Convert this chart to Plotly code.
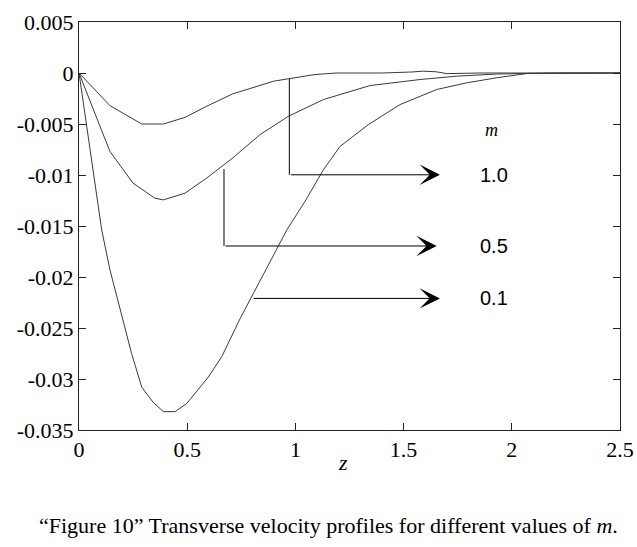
import plotly.graph_objects as go

# Data (z, transverse velocity)
z_m10 = [0, 0.143, 0.29, 0.39, 0.49, 0.59, 0.71, 0.90, 0.967, 1.09, 1.19, 1.40, 1.54, 1.59, 1.65, 1.70, 1.85, 2.0, 2.5]
v_m10 = [0, -0.0032, -0.0050, -0.0050, -0.00435, -0.00326, -0.00205, -0.0008, -0.00057, -0.00015, 0.0, 0.0, 0.0001, 0.00018, 0.00012, -0.00006, 0.0, 0.0, 0.0]

z_m05 = [0, 0.143, 0.25, 0.35, 0.39, 0.49, 0.59, 0.71, 0.836, 0.967, 1.13, 1.28, 1.345, 1.576, 1.745, 1.93, 2.2, 2.5]
v_m05 = [0, -0.00769, -0.0108, -0.01227, -0.01244, -0.01178, -0.0103, -0.00834, -0.00605, -0.00425, -0.0026, -0.00162, -0.00123, -0.00064, -0.00031, -0.0001, 0.0, 0.0]

z_m01 = [0, 0.105, 0.143, 0.197, 0.243, 0.29, 0.343, 0.39, 0.444, 0.498, 0.598, 0.66, 0.744, 0.806, 0.898, 0.96, 1.044, 1.129, 1.206, 1.337, 1.483, 1.653, 1.79, 1.93, 2.07, 2.3, 2.5]
v_m01 = [0, -0.0154, -0.0193, -0.0236, -0.0275, -0.0308, -0.0323, -0.0332, -0.0332, -0.0324, -0.0298, -0.0278, -0.0241, -0.0216, -0.0178, -0.0154, -0.0126, -0.0095, -0.0072, -0.00506, -0.0031, -0.00162, -0.00097, -0.00047, -0.00005, 0.0, 0.0]

m_labels = ["1.0", "0.5", "0.1"]

x_ticks = [0, 0.5, 1, 1.5, 2, 2.5]
x_tick_text = ["0", "0.5", "1", "1.5", "2", "2.5"]
y_ticks = [0.005, 0, -0.005, -0.01, -0.015, -0.02, -0.025, -0.03, -0.035]
y_tick_text = ["0.005", "0", "-0.005", "-0.01", "-0.015", "-0.02", "-0.025", "-0.03", "-0.035"]

line_color = "#3a3a3a"
serif = "Liberation Serif"
sans = "Liberation Sans"

fig = go.Figure()
for zz, vv in [(z_m10, v_m10), (z_m05, v_m05), (z_m01, v_m01)]:
    fig.add_trace(go.Scatter(x=zz, y=vv, mode="lines",
                             line=dict(color=line_color, width=1), showlegend=False,
                             hoverinfo="skip"))

# Leader lines (vertical parts)
fig.add_shape(type="line", x0=0.972, x1=0.972, y0=-0.00057, y1=-0.00998,
              line=dict(color="black", width=1))
fig.add_shape(type="line", x0=0.67, x1=0.67, y0=-0.00942, y1=-0.01696,
              line=dict(color="black", width=1))

# Horizontal arrows
arrows = [(0.972, -0.00998, 1.668), (0.67, -0.01696, 1.653), (0.80, -0.0221, 1.668)]
for (x0, y0, x1) in arrows:
    fig.add_annotation(x=x1, y=y0, ax=x0, ay=y0, xref="x", yref="y", axref="x", ayref="y",
                       showarrow=True, arrowhead=3, arrowsize=3.4, arrowwidth=1,
                       arrowcolor="black", text="")

label_y = [-0.00998, -0.01696, -0.0221]
for lab, yy in zip(m_labels, label_y):
    fig.add_annotation(x=1.92, y=yy, xref="x", yref="y", text=lab, showarrow=False,
                       font=dict(family=sans, size=20, color="black"))

fig.add_annotation(x=1.907, y=-0.00556, xref="x", yref="y", text="<i>m</i>", showarrow=False,
                   font=dict(family=serif, size=18, color="black"))

# axis title z (placed below the axis in paper coordinates)
fig.add_annotation(x=1.218, y=0, xref="x", yref="paper", yshift=-32, text="<i>z</i>",
                   showarrow=False, font=dict(family=serif, size=22, color="black"),
                   yanchor="middle")

# caption
fig.add_annotation(x=(328 - 79) / (620 - 79), y=0, xref="paper", yref="paper", yshift=-95,
                   showarrow=False,
                   text="\u201cFigure 10\u201d Transverse velocity profiles for different values of <i>m</i>.",
                   font=dict(family=serif, size=22, color="black"), yanchor="middle")

axis_common = dict(showgrid=False, zeroline=False, showline=True, linecolor="#222", linewidth=1,
                   mirror="ticks", ticks="inside", ticklen=7, tickcolor="#222", automargin=False,
                   tickfont=dict(family=serif, size=22, color="black"))

fig.update_xaxes(range=[0, 2.5], tickvals=x_ticks, ticktext=x_tick_text, **axis_common)
fig.update_yaxes(range=[-0.035, 0.005], tickvals=y_ticks, ticktext=y_tick_text, **axis_common)

fig.update_layout(width=637, height=547, margin=dict(l=79, r=17, t=22, b=117),
                  plot_bgcolor="white", paper_bgcolor="white",
                  font=dict(family=serif))

fig.write_html("out.html")
